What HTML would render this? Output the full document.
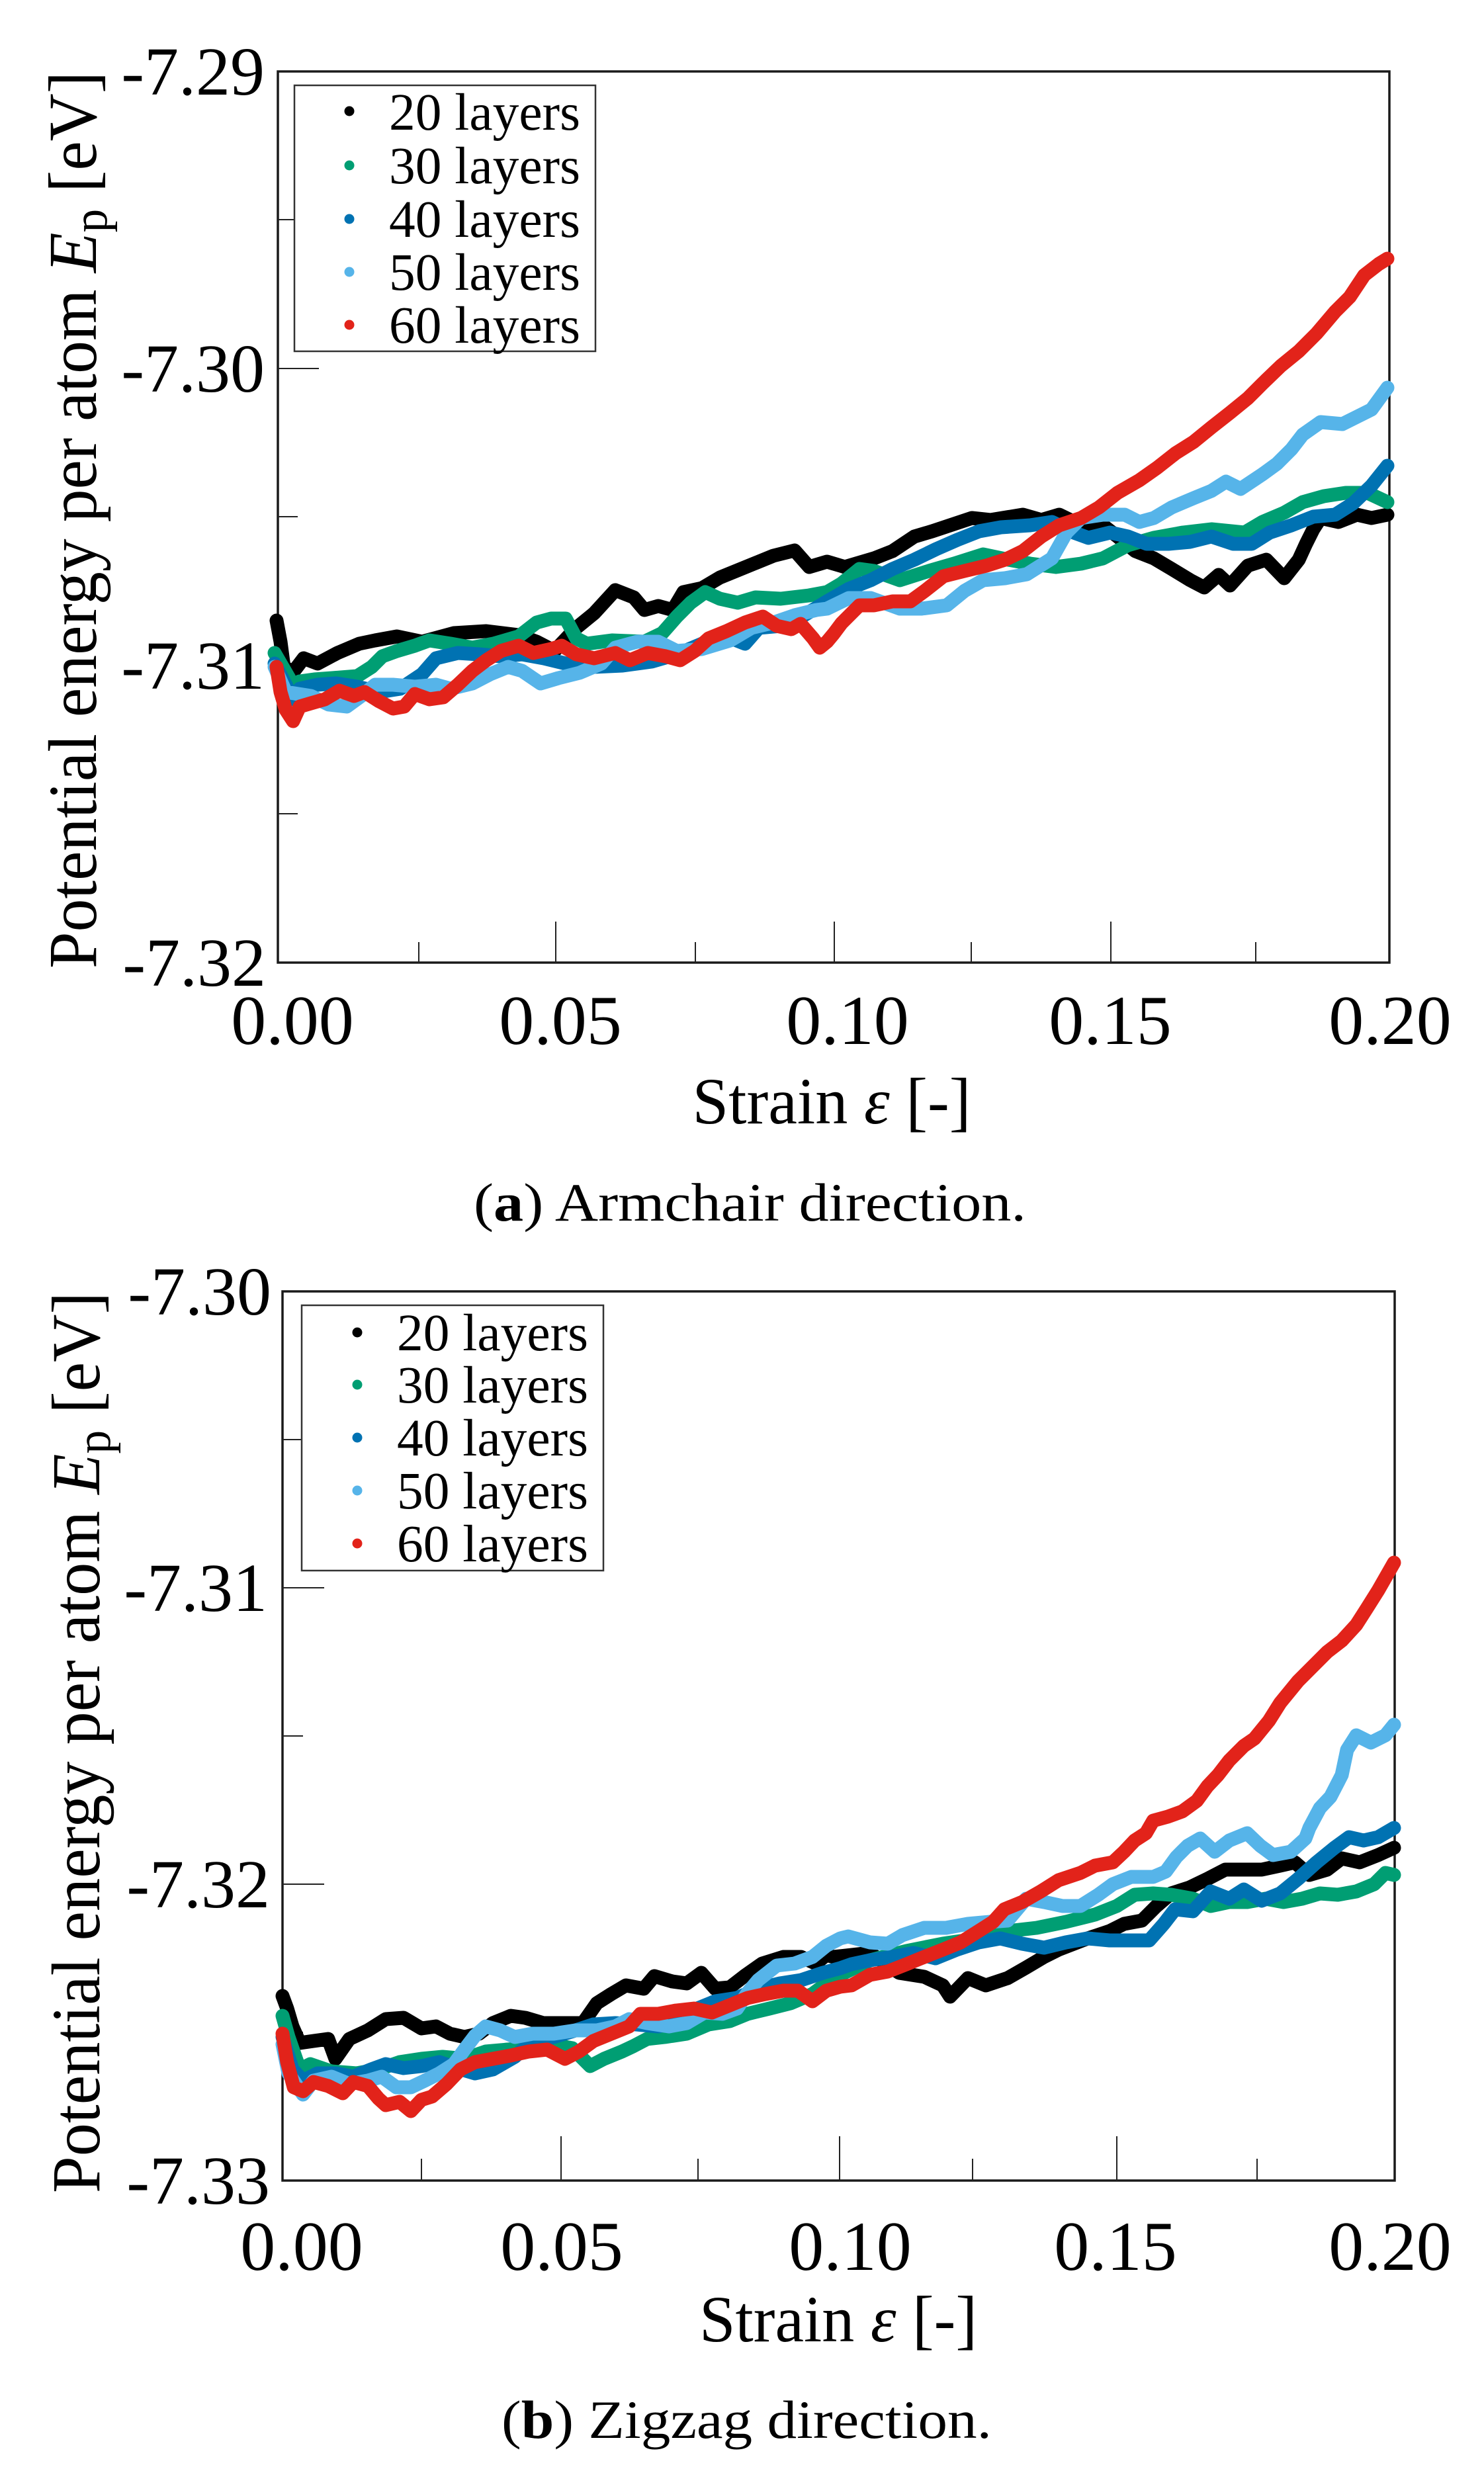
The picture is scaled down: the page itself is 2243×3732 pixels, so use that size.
<!DOCTYPE html>
<html>
<head>
<meta charset="utf-8">
<style>
html,body{margin:0;padding:0;background:#fff;}
svg{display:block;}
text{font-family:"Liberation Serif","DejaVu Serif",serif;fill:#000;}
</style>
</head>
<body>
<svg xmlns="http://www.w3.org/2000/svg" width="2243" height="3732" viewBox="0 0 2243 3732">
<rect width="2243" height="3732" fill="#fff"/>

<!-- ================= TOP PLOT (a) ================= -->
<g>
  <rect x="420" y="108" width="1680" height="1347" fill="none" stroke="#1a1a1a" stroke-width="3.5"/>
  <g stroke="#222" stroke-width="2">
    <line x1="420" y1="332" x2="450" y2="332"/>
    <line x1="420" y1="557" x2="482" y2="557"/>
    <line x1="420" y1="781" x2="450" y2="781"/>
    <line x1="420" y1="1006" x2="482" y2="1006"/>
    <line x1="420" y1="1230" x2="450" y2="1230"/>
    <line x1="633" y1="1455" x2="633" y2="1424"/>
    <line x1="840" y1="1455" x2="840" y2="1393"/>
    <line x1="1051" y1="1455" x2="1051" y2="1424"/>
    <line x1="1261" y1="1455" x2="1261" y2="1393"/>
    <line x1="1468" y1="1455" x2="1468" y2="1424"/>
    <line x1="1679" y1="1455" x2="1679" y2="1393"/>
    <line x1="1898" y1="1455" x2="1898" y2="1424"/>
  </g>
  <g font-size="104" text-anchor="end">
    <text x="400" y="143">-7.29</text>
    <text x="400" y="592">-7.30</text>
    <text x="400" y="1041">-7.31</text>
    <text x="402" y="1490">-7.32</text>
  </g>
  <g font-size="106" text-anchor="middle">
    <text x="442" y="1578">0.00</text>
    <text x="847" y="1578">0.05</text>
    <text x="1281" y="1578">0.10</text>
    <text x="1678" y="1578">0.15</text>
    <text x="2101" y="1578">0.20</text>
  </g>
  <text x="1257" y="1698" font-size="100" text-anchor="middle" textLength="421" lengthAdjust="spacingAndGlyphs">Strain <tspan font-style="italic">ε</tspan> [-]</text>
  <text transform="translate(145,786) rotate(-90)" font-size="104" text-anchor="middle" textLength="1356" lengthAdjust="spacingAndGlyphs">Potential energy per atom <tspan font-style="italic">E</tspan><tspan font-size="74" dy="16">p</tspan><tspan dy="-16"> [eV]</tspan></text>

  <g fill="none" stroke-width="21" stroke-linejoin="round" stroke-linecap="round">
    <polyline stroke="#000000" points="418,938 424,970 429,1008 443,1016 459,995 480,1003 510,987 543,973 567,968 600,962 638,970 686,957 735,954 784,960 811,970 838,984 871,949 898,927 930,892 958,903 974,922 995,916 1017,922 1033,895 1061,889 1088,873 1115,862 1142,851 1169,840 1201,832 1223,857 1250,849 1277,857 1321,844 1349,833 1382,811 1409,803 1436,794 1469,783 1497,786 1546,778 1574,786 1601,778 1634,794 1667,794 1689,811 1716,833 1744,844 1771,860 1799,877 1820,888 1842,869 1859,885 1886,855 1914,846 1941,874 1963,846 1974,822 1985,800 1996,783 2023,789 2051,778 2073,783 2097,778"/>
    <polyline stroke="#009E73" points="415,987 437,1025 443,1052 453,1030 475,1027 502,1025 540,1022 562,1008 578,992 600,984 627,976 649,968 681,973 714,979 746,973 784,962 811,941 833,935 855,935 871,965 887,973 925,968 974,970 1001,957 1023,932 1044,911 1066,895 1088,905 1115,911 1142,903 1180,905 1223,900 1250,895 1272,882 1299,860 1321,863 1360,877 1404,863 1442,852 1486,838 1524,846 1557,852 1596,857 1634,852 1667,844 1705,824 1744,813 1788,805 1831,800 1881,805 1908,789 1941,775 1969,759 2001,750 2034,745 2067,745 2097,759"/>
    <polyline stroke="#0072B2" points="415,1003 432,1035 443,1057 453,1041 480,1035 508,1033 540,1038 573,1046 605,1041 638,1019 659,995 692,987 724,989 757,992 789,989 822,995 855,1003 898,1008 941,1006 985,1000 1023,989 1061,973 1098,962 1126,973 1147,949 1180,946 1212,932 1250,909 1283,890 1316,877 1349,860 1382,846 1415,830 1447,816 1480,803 1513,797 1557,794 1590,789 1623,805 1645,813 1678,805 1705,811 1733,822 1766,822 1799,819 1831,811 1864,822 1892,822 1919,805 1952,794 1985,781 2018,778 2045,761 2073,734 2097,704"/>
    <polyline stroke="#56B4E9" points="415,1008 432,1046 470,1052 497,1065 524,1068 546,1052 567,1035 594,1035 627,1038 659,1035 681,1041 714,1033 741,1019 768,1008 789,1014 817,1033 844,1025 876,1017 909,1003 930,979 963,970 995,970 1023,984 1061,981 1104,968 1136,949 1169,941 1201,930 1234,922 1250,920 1283,904 1316,904 1360,920 1393,920 1431,915 1458,893 1486,877 1519,874 1552,868 1590,844 1612,805 1634,783 1667,778 1700,778 1722,789 1744,783 1771,767 1804,753 1831,742 1853,728 1875,739 1908,717 1930,701 1952,679 1969,657 1996,638 2029,641 2051,630 2073,619 2089,597 2097,586"/>
    <polyline stroke="#E2231A" points="418,1008 424,1046 432,1073 443,1090 453,1068 470,1063 491,1057 513,1044 535,1052 551,1046 573,1060 594,1071 611,1068 627,1049 649,1057 670,1054 692,1035 714,1014 735,998 757,984 784,976 806,987 833,981 849,976 871,989 898,995 930,987 952,998 979,987 1006,992 1028,998 1050,984 1071,965 1098,954 1126,941 1153,932 1174,946 1196,951 1210,943 1229,965 1239,979 1250,970 1260,958 1272,942 1299,915 1321,915 1349,909 1376,909 1398,893 1426,871 1458,863 1491,855 1519,846 1546,833 1574,811 1601,794 1634,783 1661,767 1689,745 1722,726 1749,707 1777,685 1804,668 1831,646 1859,624 1886,602 1908,580 1936,553 1963,531 1990,504 2018,471 2040,449 2062,416 2084,399 2097,391"/>
  </g>

  <rect x="445" y="129" width="455" height="402" fill="#fff" stroke="#333" stroke-width="2.5"/>
  <g>
    <circle cx="528" cy="168" r="7.5" fill="#000000"/>
    <circle cx="528" cy="250" r="7.5" fill="#009E73"/>
    <circle cx="528" cy="331" r="7.5" fill="#0072B2"/>
    <circle cx="528" cy="411" r="7.5" fill="#56B4E9"/>
    <circle cx="528" cy="491" r="7.5" fill="#E2231A"/>
  </g>
  <g font-size="79">
    <text x="588" y="196" textLength="289" lengthAdjust="spacingAndGlyphs">20 layers</text>
    <text x="588" y="277" textLength="289" lengthAdjust="spacingAndGlyphs">30 layers</text>
    <text x="588" y="358" textLength="289" lengthAdjust="spacingAndGlyphs">40 layers</text>
    <text x="588" y="438" textLength="289" lengthAdjust="spacingAndGlyphs">50 layers</text>
    <text x="588" y="518" textLength="289" lengthAdjust="spacingAndGlyphs">60 layers</text>
  </g>

  <text x="716" y="1845" font-size="82" textLength="835" lengthAdjust="spacingAndGlyphs">(<tspan font-weight="bold">a</tspan>) Armchair direction.</text>
</g>

<!-- ================= BOTTOM PLOT (b) ================= -->
<g>
  <rect x="427" y="1952" width="1681" height="1344" fill="none" stroke="#1a1a1a" stroke-width="3.5"/>
  <g stroke="#222" stroke-width="2">
    <line x1="427" y1="2176" x2="458" y2="2176"/>
    <line x1="427" y1="2400" x2="490" y2="2400"/>
    <line x1="427" y1="2624" x2="458" y2="2624"/>
    <line x1="427" y1="2848" x2="490" y2="2848"/>
    <line x1="427" y1="3072" x2="458" y2="3072"/>
    <line x1="637" y1="3296" x2="637" y2="3263"/>
    <line x1="848" y1="3296" x2="848" y2="3229"/>
    <line x1="1055" y1="3296" x2="1055" y2="3263"/>
    <line x1="1269" y1="3296" x2="1269" y2="3229"/>
    <line x1="1470" y1="3296" x2="1470" y2="3263"/>
    <line x1="1688" y1="3296" x2="1688" y2="3229"/>
    <line x1="1900" y1="3296" x2="1900" y2="3263"/>
  </g>
  <g font-size="104" text-anchor="end">
    <text x="410" y="1987">-7.30</text>
    <text x="404" y="2435">-7.31</text>
    <text x="408" y="2883">-7.32</text>
    <text x="408" y="3331">-7.33</text>
  </g>
  <g font-size="106" text-anchor="middle">
    <text x="456" y="3431">0.00</text>
    <text x="849" y="3431">0.05</text>
    <text x="1285" y="3431">0.10</text>
    <text x="1686" y="3431">0.15</text>
    <text x="2101" y="3431">0.20</text>
  </g>
  <text x="1267" y="3539" font-size="100" text-anchor="middle" textLength="420" lengthAdjust="spacingAndGlyphs">Strain <tspan font-style="italic">ε</tspan> [-]</text>
  <text transform="translate(150,2634) rotate(-90)" font-size="104" text-anchor="middle" textLength="1362" lengthAdjust="spacingAndGlyphs">Potential energy per atom <tspan font-style="italic">E</tspan><tspan font-size="74" dy="16">p</tspan><tspan dy="-16"> [eV]</tspan></text>

  <g fill="none" stroke-width="21" stroke-linejoin="round" stroke-linecap="round">
    <polyline stroke="#000000" points="427,3017 434,3036 442,3063 453,3088 474,3085 496,3082 507,3112 528,3082 556,3069 583,3052 610,3050 637,3066 659,3063 680,3074 702,3079 724,3074 745,3058 772,3047 794,3050 821,3058 854,3058 881,3058 902,3028 924,3014 946,3001 973,3006 989,2987 1016,2995 1038,2998 1060,2982 1081,3006 1103,3004 1125,2987 1152,2968 1184,2958 1211,2958 1233,2968 1249,2955 1260,2958 1315,2952 1359,2982 1397,2988 1425,3001 1436,3018 1463,2990 1490,3001 1523,2990 1551,2974 1578,2958 1600,2947 1644,2930 1677,2919 1699,2908 1726,2903 1748,2881 1770,2862 1798,2853 1825,2840 1852,2826 1880,2826 1907,2826 1935,2820 1957,2815 1979,2834 2006,2826 2028,2809 2055,2815 2083,2804 2107,2793"/>
    <polyline stroke="#009E73" points="427,3047 436,3079 453,3128 469,3120 501,3131 539,3134 572,3128 604,3117 637,3112 669,3109 702,3112 734,3101 767,3098 799,3096 832,3090 865,3096 892,3123 913,3112 940,3101 957,3093 978,3082 1005,3079 1038,3074 1071,3060 1103,3055 1130,3044 1163,3036 1195,3028 1228,3014 1260,2990 1315,2963 1370,2949 1425,2938 1479,2930 1523,2919 1567,2914 1611,2905 1655,2894 1688,2881 1715,2864 1743,2862 1770,2864 1803,2870 1830,2881 1858,2875 1885,2875 1913,2870 1940,2875 1968,2870 1995,2862 2022,2864 2050,2859 2077,2848 2094,2831 2107,2834"/>
    <polyline stroke="#0072B2" points="427,3079 442,3128 458,3145 480,3134 507,3134 534,3139 561,3128 583,3120 610,3126 637,3123 664,3117 691,3126 718,3134 745,3128 778,3109 805,3085 837,3079 870,3069 897,3060 930,3058 962,3060 995,3063 1027,3055 1054,3036 1081,3025 1114,3020 1146,3006 1179,2998 1211,2993 1244,2982 1270,2975 1287,2969 1315,2963 1348,2958 1381,2952 1414,2960 1446,2947 1479,2936 1512,2930 1545,2938 1578,2944 1611,2936 1644,2930 1677,2933 1710,2933 1737,2933 1759,2908 1776,2886 1803,2889 1830,2859 1858,2870 1880,2856 1907,2873 1935,2862 1962,2840 1990,2815 2017,2793 2039,2777 2061,2782 2083,2777 2107,2763"/>
    <polyline stroke="#56B4E9" points="427,3090 436,3134 447,3150 458,3166 474,3145 501,3139 528,3150 556,3145 577,3139 599,3155 621,3155 642,3145 664,3134 686,3120 702,3098 718,3077 734,3063 756,3069 778,3079 805,3074 837,3074 870,3069 902,3069 930,3063 951,3052 978,3058 1011,3063 1038,3058 1065,3042 1092,3044 1114,3036 1130,3012 1146,2993 1174,2971 1201,2968 1228,2958 1249,2941 1270,2930 1282,2927 1315,2936 1342,2938 1364,2925 1397,2914 1430,2914 1463,2908 1496,2905 1523,2903 1551,2870 1578,2875 1606,2881 1633,2881 1660,2864 1682,2848 1710,2837 1743,2837 1762,2829 1778,2807 1795,2790 1814,2779 1836,2799 1858,2782 1885,2771 1905,2790 1924,2804 1951,2799 1973,2779 1979,2763 1995,2733 2011,2716 2028,2683 2036,2645 2050,2623 2072,2634 2094,2623 2107,2607"/>
    <polyline stroke="#E2231A" points="427,3074 434,3117 444,3155 458,3161 474,3147 496,3153 518,3164 534,3147 556,3153 572,3172 583,3182 604,3177 621,3191 637,3174 653,3169 675,3150 696,3128 718,3117 745,3112 772,3107 799,3101 827,3098 854,3112 875,3101 897,3085 924,3074 951,3063 968,3044 995,3044 1022,3039 1049,3036 1076,3042 1103,3031 1130,3020 1157,3014 1184,3009 1206,3009 1228,3025 1249,3009 1270,3003 1287,3001 1315,2985 1342,2980 1370,2969 1397,2958 1425,2947 1452,2936 1479,2919 1501,2905 1518,2886 1545,2875 1573,2859 1600,2842 1633,2831 1655,2820 1682,2815 1699,2799 1715,2782 1732,2771 1743,2752 1765,2746 1787,2738 1809,2722 1825,2700 1841,2683 1858,2661 1880,2639 1896,2628 1918,2601 1935,2574 1962,2541 1984,2519 2006,2497 2028,2480 2050,2456 2066,2431 2083,2404 2099,2376 2107,2362"/>
  </g>

  <rect x="456" y="1973" width="456" height="401" fill="#fff" stroke="#333" stroke-width="2.5"/>
  <g>
    <circle cx="540" cy="2014" r="7.5" fill="#000000"/>
    <circle cx="540" cy="2093" r="7.5" fill="#009E73"/>
    <circle cx="540" cy="2173" r="7.5" fill="#0072B2"/>
    <circle cx="540" cy="2253" r="7.5" fill="#56B4E9"/>
    <circle cx="540" cy="2333" r="7.5" fill="#E2231A"/>
  </g>
  <g font-size="79">
    <text x="600" y="2041" textLength="289" lengthAdjust="spacingAndGlyphs">20 layers</text>
    <text x="600" y="2120" textLength="289" lengthAdjust="spacingAndGlyphs">30 layers</text>
    <text x="600" y="2200" textLength="289" lengthAdjust="spacingAndGlyphs">40 layers</text>
    <text x="600" y="2280" textLength="289" lengthAdjust="spacingAndGlyphs">50 layers</text>
    <text x="600" y="2360" textLength="289" lengthAdjust="spacingAndGlyphs">60 layers</text>
  </g>

  <text x="758" y="3685" font-size="82" textLength="741" lengthAdjust="spacingAndGlyphs">(<tspan font-weight="bold">b</tspan>) Zigzag direction.</text>
</g>
</svg>
</body>
</html>
